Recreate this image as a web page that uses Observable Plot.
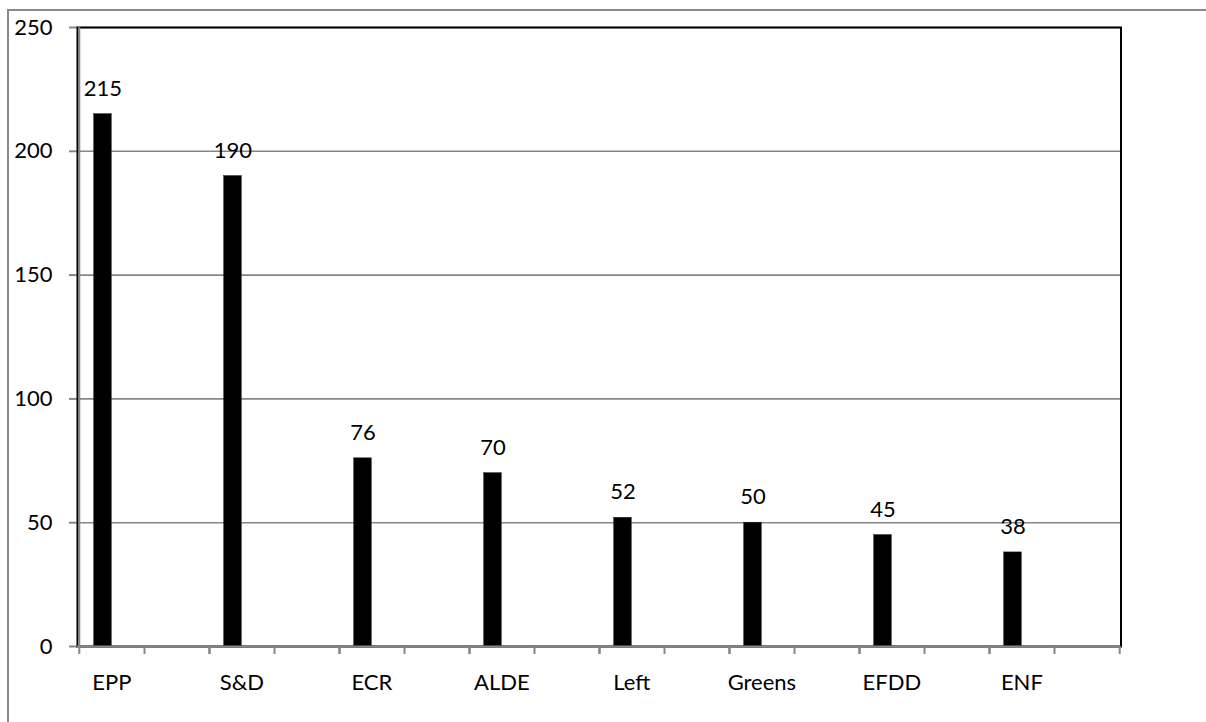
<!DOCTYPE html>
<html>
<head>
<meta charset="utf-8">
<script src="https://cdn.jsdelivr.net/npm/d3@7"></script>
<script src="https://cdn.jsdelivr.net/npm/@observablehq/plot@0.6"></script>
<style>
  html, body { margin: 0; padding: 0; background: #fff; overflow: hidden; }
  #wrap { position: relative; width: 1206px; height: 722px; }
  #outer { position: absolute; left: 7px; top: 9px; width: 3000px; height: 3000px;
           border-left: 2px solid #8a8a8a; border-top: 2px solid #8a8a8a; pointer-events: none; }
  #chart svg { position: absolute; left: 0; top: 0; }
  #chart [aria-label^="y-axis"] line, #chart [aria-label^="y-axis"] path { stroke: #868686; stroke-width: 2px; }
</style>
</head>
<body>
<div id="wrap">
  <div id="outer"></div>
  <div id="chart"></div>
</div>
<script>
const parties = ["EPP", "S&D", "ECR", "ALDE", "Left", "Greens", "EFDD", "ENF"];
const seats = [215, 190, 76, 70, 52, 50, 45, 38];
const yTicks = [0, 50, 100, 150, 200, 250];

const table = parties.map((p, i) => ({party: p, seats: seats[i]}));

const W = 1206, H = 722;
const mL = 77, mR = 85.5, mT = 27, mB = 76;
const bw = (W - mL - mR) / parties.length;
const grey = "#868686";

const chart = Plot.plot({
  width: W,
  height: H,
  marginLeft: mL,
  marginRight: mR,
  marginTop: mT,
  marginBottom: mB,
  style: {background: "transparent", fontFamily: "Lato, 'Open Sans', sans-serif", fontSize: "22px", color: "black"},
  x: {domain: parties, padding: 0, axis: null},
  y: {domain: [0, 250], ticks: yTicks, tickSize: 8, tickPadding: 17, label: null},
  marks: [
    Plot.ruleY(yTicks, {stroke: grey, strokeWidth: 1.6}),
    Plot.barY(table, {x: "party", y: "seats", fill: "black", stroke: "#222", strokeWidth: 0.5,
      insetLeft: 14.7, insetRight: bw - 32.7}),
    Plot.frame({stroke: "black", strokeWidth: 2}),
    Plot.ruleX([parties[0]], {x: d => d, dx: -bw / 2, stroke: grey, strokeWidth: 2}),
    Plot.ruleY([0], {stroke: grey, strokeWidth: 2}),
    Plot.ruleX(parties, {x: d => d, y1: () => 0, y2: () => 0, dx: -bw / 2, insetTop: 8, stroke: grey, strokeWidth: 2}),
    Plot.ruleX(parties, {x: d => d, y1: () => 0, y2: () => 0, insetTop: 8, stroke: grey, strokeWidth: 2}),
    Plot.ruleX(parties, {x: d => d, y1: () => 0, y2: () => 0, dx: bw / 2, insetTop: 8, stroke: grey, strokeWidth: 2}),
    Plot.text(table, {x: "party", y: "seats", text: d => String(d.seats), dx: 23.7 - bw / 2, dy: -18.5,
      lineAnchor: "bottom", textAnchor: "middle", fill: "black"}),
    Plot.text(parties, {x: d => d, text: d => d, frameAnchor: "bottom", dx: 32.6 - bw / 2, dy: 43,
      lineAnchor: "bottom", textAnchor: "middle", fill: "black"})
  ]
});
document.getElementById("chart").appendChild(chart);
</script>
</body>
</html>
